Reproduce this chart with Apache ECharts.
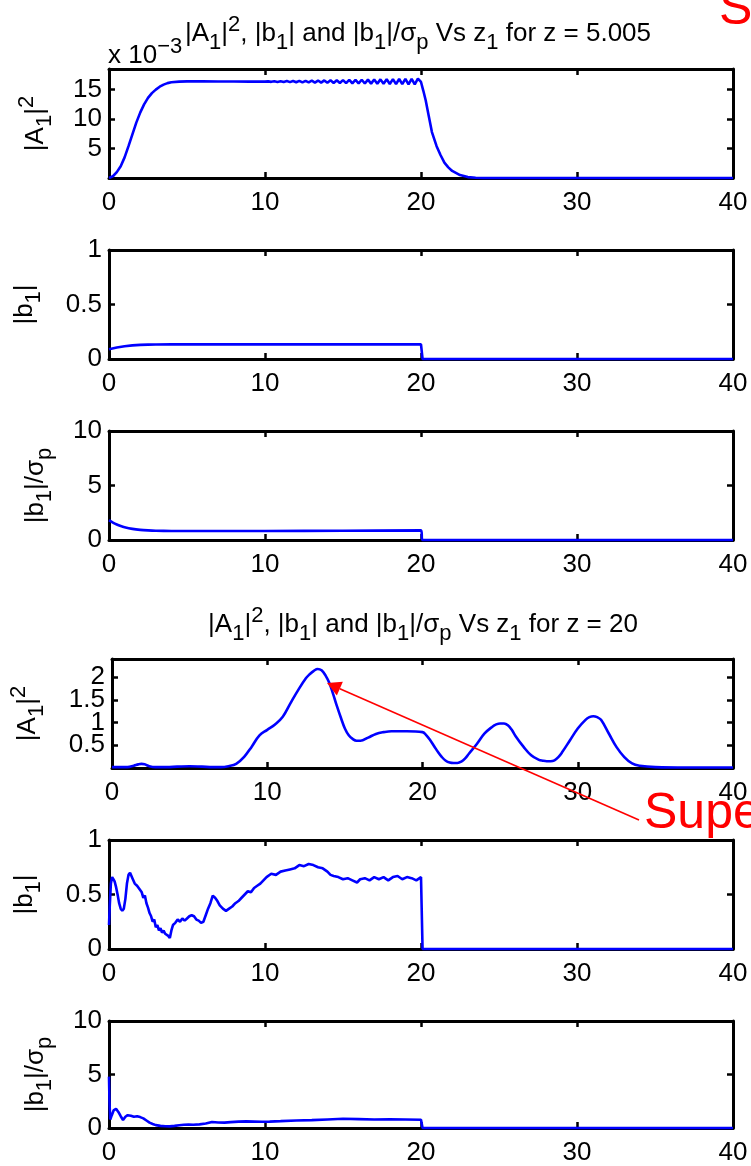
<!DOCTYPE html>
<html>
<head>
<meta charset="utf-8">
<script src="https://cdn.jsdelivr.net/npm/echarts@6/dist/echarts.min.js"></script>
<style>
html,body{margin:0;padding:0;background:#fff;}
#chart{width:751px;height:1166px;}
</style>
</head>
<body>
<div id="chart"></div>
<script>
// ---------- DATA ----------
const xTicks = [0, 10, 20, 30, 40];

// z = 5.005 : |A1|^2 (x 10^-3)
const a1Early = [[0,0],[0.25,0.3],[0.5,1.0],[0.75,2.0],[1,3.5],[1.25,5.4],[1.5,7.4],[1.75,9.4],[2,11.1],[2.25,12.5],[2.5,13.6],[2.75,14.4],[3,15.0],[3.25,15.5],[3.5,15.85],[3.75,16.1],[4,16.25],[4.5,16.35],[5,16.4],[6,16.4],[7,16.38],[8,16.38],[9,16.36],
[10,16.36],[10.2,16.4],[10.4,16.32],[10.6,16.42],[10.8,16.3],[11,16.43],[11.2,16.29],[11.4,16.45],[11.6,16.27],[11.8,16.47],[12,16.25],[12.2,16.49],[12.4,16.23],[12.6,16.5],[12.8,16.22],[13,16.52],[13.2,16.2],[13.4,16.54],[13.6,16.18],[13.8,16.56],[14,16.16],[14.2,16.58],[14.4,16.14],[14.6,16.6],[14.8,16.12],[15,16.62],[15.2,16.1],[15.4,16.64],[15.6,16.08],[15.8,16.66],[16,16.06],[16.2,16.68],[16.4,16.04],[16.6,16.7],[16.8,16.02],[17,16.72],[17.2,16.0],[17.4,16.74],[17.6,15.98],[17.8,16.76],[18,15.96],[18.2,16.78],[18.4,15.94],[18.6,16.8],[18.8,15.92],[19,16.82],[19.2,15.9],[19.4,16.84],[19.6,15.9],[19.8,16.85],[20,16.3],
[20.15,14.8],[20.3,13.2],[20.5,10.5],[20.7,7.8],[21,5.4],[21.25,3.9],[21.5,2.6],[21.75,1.8],[22,1.2],[22.5,0.5],[23,0.15],[23.5,0.04],[24,0.01],[30,0],[40,0]];

// z = 5.005 : |b1|
const b1Early = [[0,0.09],[0.5,0.105],[1,0.117],[1.5,0.125],[2,0.13],[2.5,0.132],[3,0.133],[4,0.134],[5,0.134],[10,0.134],[15,0.134],[20,0.134],[20.1,0],[30,0],[40,0]];

// z = 5.005 : |b1|/sigma_p
const bsEarly = [[0,1.82],[0.25,1.6],[0.5,1.42],[0.75,1.28],[1,1.17],[1.5,1.02],[2,0.93],[2.5,0.88],[3,0.85],[4,0.83],[5,0.82],[10,0.83],[15,0.85],[20,0.88],[20.1,0],[30,0],[40,0]];

// z = 20 : |A1|^2
const a1Late = [[0,0.02],[0.5,0.02],[1,0.02],[1.4,0.05],[1.7,0.08],[1.9,0.09],[2.1,0.08],[2.4,0.04],[2.8,0.02],[3.5,0.02],[4.2,0.03],[5,0.04],[5.8,0.03],[6.5,0.02],[7,0.02],[7.5,0.04],[8,0.09],[8.5,0.24],[9,0.47],[9.5,0.72],[10,0.84],[10.5,0.96],[11,1.13],[11.5,1.43],[12,1.72],[12.5,1.98],[12.75,2.07],[13,2.14],[13.25,2.18],[13.5,2.15],[13.75,2.04],[14,1.87],[14.25,1.62],[14.5,1.35],[14.75,1.1],[15,0.87],[15.25,0.72],[15.5,0.64],[15.75,0.6],[16,0.6],[16.5,0.67],[17,0.75],[17.5,0.79],[18,0.81],[19,0.81],[20,0.79],[20.25,0.72],[20.5,0.61],[20.75,0.48],[21,0.35],[21.25,0.24],[21.5,0.16],[21.75,0.12],[22,0.11],[22.25,0.11],[22.5,0.14],[22.75,0.21],[23,0.32],[23.5,0.53],[24,0.76],[24.5,0.91],[24.75,0.96],[25,0.98],[25.25,0.98],[25.5,0.94],[25.75,0.84],[26,0.7],[26.5,0.47],[27,0.28],[27.5,0.18],[27.75,0.16],[28,0.15],[28.25,0.15],[28.5,0.17],[28.75,0.24],[29,0.35],[29.5,0.61],[30,0.87],[30.5,1.06],[30.75,1.12],[31,1.14],[31.25,1.12],[31.5,1.06],[32,0.76],[32.5,0.46],[33,0.24],[33.5,0.1],[34,0.05],[35,0.02],[37,0.01],[40,0.01]];

// z = 20 : |b1|
const b1Late = [[0,0.22],[0.05,0.4],[0.12,0.6],[0.2,0.66],[0.28,0.64],[0.36,0.62],[0.45,0.57],[0.55,0.5],[0.65,0.42],[0.75,0.37],[0.85,0.35],[0.95,0.37],[1.05,0.46],[1.15,0.6],[1.25,0.68],[1.35,0.7],[1.5,0.65],[1.65,0.6],[1.8,0.58],[1.95,0.55],[2.1,0.52],[2.2,0.47],[2.3,0.49],[2.4,0.42],[2.5,0.38],[2.6,0.33],[2.7,0.3],[2.8,0.25],[2.9,0.27],[3.0,0.2],[3.1,0.22],[3.2,0.17],[3.3,0.19],[3.4,0.15],[3.5,0.17],[3.6,0.14],[3.7,0.15],[3.8,0.12],[3.9,0.1],[4.0,0.17],[4.1,0.22],[4.25,0.24],[4.4,0.27],[4.55,0.25],[4.7,0.28],[4.85,0.26],[5.0,0.28],[5.15,0.3],[5.3,0.31],[5.45,0.3],[5.6,0.27],[5.75,0.26],[5.9,0.24],[6.05,0.25],[6.2,0.31],[6.35,0.37],[6.5,0.42],[6.65,0.49],[6.8,0.47],[6.95,0.44],[7.1,0.4],[7.3,0.37],[7.5,0.35],[7.7,0.37],[7.9,0.39],[8.1,0.42],[8.3,0.44],[8.5,0.47],[8.7,0.5],[8.9,0.53],[9.1,0.52],[9.3,0.56],[9.5,0.58],[9.7,0.6],[9.9,0.63],[10.1,0.66],[10.4,0.69],[10.7,0.68],[11.0,0.71],[11.3,0.72],[11.6,0.73],[11.9,0.74],[12.2,0.77],[12.5,0.76],[12.8,0.78],[13.1,0.77],[13.4,0.75],[13.7,0.74],[14.0,0.71],[14.2,0.68],[14.4,0.67],[14.7,0.66],[15.0,0.64],[15.3,0.65],[15.6,0.63],[15.9,0.61],[16.1,0.64],[16.4,0.65],[16.7,0.63],[17.0,0.66],[17.3,0.64],[17.6,0.66],[17.9,0.63],[18.2,0.66],[18.5,0.67],[18.8,0.64],[19.1,0.66],[19.4,0.65],[19.7,0.63],[20.0,0.66],[20.1,0],[30,0],[40,0]];

// z = 20 : |b1|/sigma_p
const bsLate = [[0,4.8],[0.03,2.5],[0.08,0.8],[0.18,1.2],[0.3,1.65],[0.45,1.8],[0.6,1.5],[0.75,1.1],[0.9,0.75],[1.05,1.05],[1.2,1.2],[1.4,1.15],[1.6,1.05],[1.8,1.1],[2.0,1.02],[2.2,0.9],[2.4,0.7],[2.6,0.5],[2.8,0.38],[3.0,0.27],[3.3,0.2],[3.6,0.16],[3.9,0.15],[4.2,0.2],[4.5,0.26],[4.8,0.3],[5.1,0.32],[5.4,0.3],[5.8,0.34],[6.2,0.42],[6.6,0.56],[7.0,0.52],[7.4,0.5],[7.8,0.55],[8.3,0.6],[8.8,0.62],[9.3,0.6],[9.8,0.58],[10.3,0.6],[11,0.64],[12,0.7],[13,0.74],[14,0.8],[15,0.86],[16,0.83],[17,0.8],[18,0.81],[19,0.8],[20,0.77],[20.1,0],[30,0],[40,0]];

// y axis ranges / ticks
const yMins = [0, 0, 0, 0, 0, 0];
const yMaxs = [18.5, 1, 10, 2.4, 1, 10];
const yIntervals = [5, 0.5, 5, 0.5, 0.5, 5];
const yHideZero = [true, false, false, true, false, false];

// texts
const yNames = [
  '{m||A}{s|1}{m||}{p|2}',
  '{m||b}{s|1}{m||}',
  '{m||b}{s|1}{m||/σ}{s|p}',
  '{m||A}{s|1}{m||}{p|2}',
  '{m||b}{s|1}{m||}',
  '{m||b}{s|1}{m||/σ}{s|p}'
];
const titleEarly = '{m||A}{s|1}{m||}{p|2}{m|, |b}{s|1}{m|| and |b}{s|1}{m||/σ}{s|p}{m| Vs z}{s|1}{m| for z = 5.005}';
const titleLate = '{m||A}{s|1}{m||}{p|2}{m|, |b}{s|1}{m|| and |b}{s|1}{m||/σ}{s|p}{m| Vs z}{s|1}{m| for z = 20}';
const exponentText = '{m|x 10}{p|−3}';
const annotTop = 'S';
const annotBottom = 'Supe';

// ---------- LAYOUT ----------
const F = '"Liberation Sans", Arial, Helvetica, sans-serif';
const FS = 26, FSS = 22;
const gridTops = [69, 250, 431, 659, 840, 1021];
const gridH = 109;
const gridLeft = 109, gridRight = 18;
const nameGaps = [53, 64, 53, 64, 64, 53];
const seriesData = [a1Early, b1Early, bsEarly, a1Late, b1Late, bsLate];
const smoothFlags = [0, 0, 0.3, 0.4, 0, 0];

function richSet(key) {
  const c = {}; c[key] = '#000';
  return {
    m: Object.assign({fontSize: FS, lineHeight: 40, fontFamily: F, verticalAlign: 'middle'}, c),
    s: Object.assign({fontSize: FSS, lineHeight: 22, fontFamily: F, verticalAlign: 'bottom'}, c),
    p: Object.assign({fontSize: FSS, lineHeight: 24, fontFamily: F, verticalAlign: 'top'}, c)
  };
}
const richAxis = richSet('color');
const richG = richSet('fill');
const richExp = {
  m: {fontSize: FS, lineHeight: 40, fontFamily: F, fill: '#000', verticalAlign: 'middle'},
  p: {fontSize: FSS, lineHeight: 14, fontFamily: F, fill: '#000', verticalAlign: 'top'}
};

const grids = [], xAxes = [], yAxes = [], series = [];
const lineStyleAxis = {color: '#000', width: 3};
const tickStyle = {color: '#000', width: 2.5};

gridTops.forEach((top, i) => {
  grids.push({left: gridLeft, right: gridRight, top: top, height: gridH, containLabel: false});
  xAxes.push({
    type: 'value', gridIndex: i, position: 'bottom', min: 0, max: 40, interval: 10,
    axisLine: {show: true, onZero: false, lineStyle: lineStyleAxis},
    axisTick: {show: true, inside: true, length: 6, lineStyle: tickStyle},
    axisLabel: {show: true, fontSize: FS, fontFamily: F, color: '#000', margin: 12,
      formatter: v => (xTicks.indexOf(v) >= 0 ? String(v) : '')},
    splitLine: {show: false}
  });
  xAxes.push({
    type: 'value', gridIndex: i, position: 'top', min: 0, max: 40, interval: 10,
    axisLine: {show: true, onZero: false, lineStyle: lineStyleAxis},
    axisTick: {show: true, inside: true, length: 6, lineStyle: tickStyle},
    axisLabel: {show: false}, splitLine: {show: false}
  });
  const iv = yIntervals[i], hideZero = yHideZero[i];
  yAxes.push({
    type: 'value', gridIndex: i, position: 'left', min: yMins[i], max: yMaxs[i], interval: iv,
    axisLine: {show: true, onZero: false, lineStyle: lineStyleAxis},
    axisTick: {show: true, inside: true, length: 6, lineStyle: tickStyle},
    axisLabel: {show: true, fontSize: FS, fontFamily: F, color: '#000', margin: 7,
      showMinLabel: true, showMaxLabel: true,
      formatter: function (v) {
        const k = v / iv;
        if (Math.abs(k - Math.round(k)) > 1e-6) return '';
        if (hideZero && Math.abs(v) < 1e-9) return '';
        return String(Math.round(v * 100) / 100);
      }},
    splitLine: {show: false},
    name: yNames[i], nameLocation: 'middle', nameRotate: 90, nameGap: nameGaps[i],
    nameTextStyle: {rich: richAxis, fontSize: FS, fontFamily: F, color: '#000'}
  });
  yAxes.push({
    type: 'value', gridIndex: i, position: 'right', min: yMins[i], max: yMaxs[i], interval: iv,
    axisLine: {show: true, onZero: false, lineStyle: lineStyleAxis},
    axisTick: {show: true, inside: true, length: 6, lineStyle: tickStyle},
    axisLabel: {show: false}, splitLine: {show: false}
  });
  series.push({
    type: 'line', xAxisIndex: 2 * i, yAxisIndex: 2 * i, data: seriesData[i],
    showSymbol: false, symbol: 'none', clip: false,
    smooth: smoothFlags[i] || false,
    lineStyle: {color: '#0000ff', width: 2.6}, z: 5, animation: false
  });
});

const chart = echarts.init(document.getElementById('chart'), null, {renderer: 'canvas'});
chart.setOption({
  animation: false,
  backgroundColor: '#fff',
  grid: grids, xAxis: xAxes, yAxis: yAxes, series: series
});

// annotations / titles
const plotCenter = gridLeft + (751 - gridLeft - gridRight) / 2;
const tip = chart.convertToPixel({gridIndex: 3}, [13.85, 1.87]);
const tail = [639, 820];
const dx = tip[0] - tail[0], dy = tip[1] - tail[1];
const len = Math.sqrt(dx * dx + dy * dy);
const ux = dx / len, uy = dy / len;
const headL = 14, headW = 7.5;
const bx = tip[0] - ux * headL, by = tip[1] - uy * headL;

chart.setOption({
  graphic: [
    {type: 'text', x: plotCenter - 3, y: 14, z: 10,
      style: {text: titleEarly, rich: richG, align: 'center', verticalAlign: 'top', fill: '#000'}},
    {type: 'text', x: plotCenter + 2, y: 605, z: 10,
      style: {text: titleLate, rich: richG, align: 'center', verticalAlign: 'top', fill: '#000'}},
    {type: 'text', x: 108, y: 36, z: 9,
      style: {text: exponentText, rich: richExp, align: 'left', verticalAlign: 'top', fill: '#000'}},
    {type: 'text', x: 719, y: 10, z: 10,
      style: {text: annotTop, fill: '#ff0000', fontSize: 50, fontFamily: F, align: 'left', verticalAlign: 'middle'}},
    {type: 'text', x: 644, y: 814, z: 10,
      style: {text: annotBottom, fill: '#ff0000', fontSize: 50, fontFamily: F, align: 'left', verticalAlign: 'middle'}},
    {type: 'line', z: 10, shape: {x1: tail[0], y1: tail[1], x2: bx, y2: by},
      style: {stroke: '#ff0000', lineWidth: 1.6}},
    {type: 'polygon', z: 10,
      shape: {points: [[tip[0], tip[1]], [bx - uy * headW, by + ux * headW], [bx + uy * headW, by - ux * headW]]},
      style: {fill: '#ff0000'}}
  ]
});
</script>
</body>
</html>
